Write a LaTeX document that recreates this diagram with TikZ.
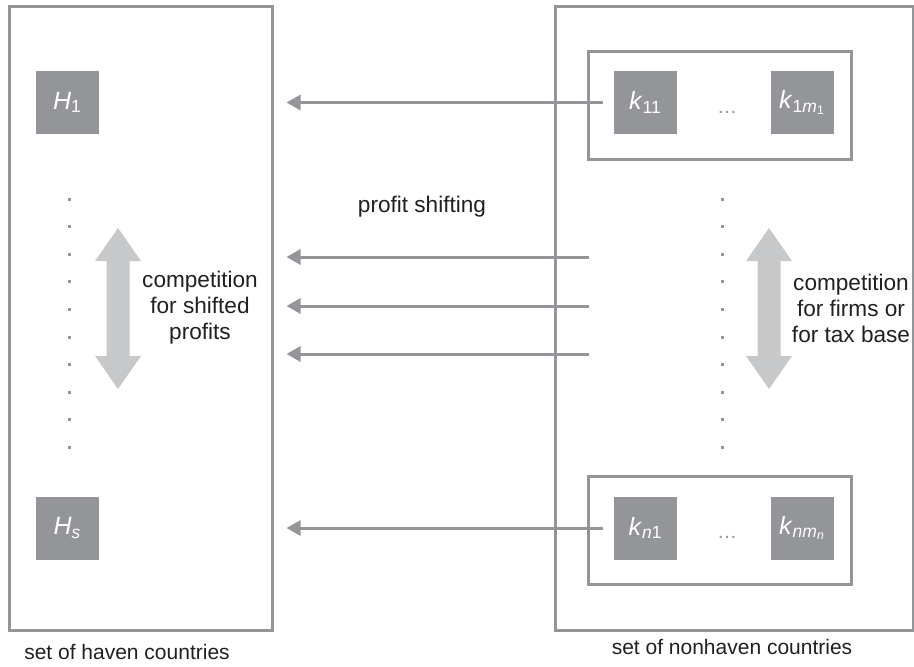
\documentclass[tikz,border=0pt]{standalone}
\usepackage{fontspec}
\setmainfont{Liberation Sans}
\usetikzlibrary{arrows.meta}
\definecolor{boxgray}{HTML}{939598}
\definecolor{lightgray}{HTML}{C7C8CA}
\definecolor{inkblack}{HTML}{231F20}

\begin{document}
\begin{tikzpicture}[x=0.5pt,y=-0.5pt,
  setbox/.style={draw=boxgray,line width=1.5pt,minimum width=#1},
  country/.style={fill=boxgray,text=white,minimum size=31.5pt,inner sep=0pt,font=\fontsize{12.5}{14}\selectfont},
  shiftarrow/.style={draw=boxgray,line width=1.5pt,-{Triangle[length=7pt,width=7.5pt]}},
  textlabel/.style={text=inkblack,align=center,font=\fontsize{11.3}{13}\selectfont}]
\useasboundingbox (0,0) rectangle (914,666);
% outer sets
\node[setbox=131.5pt,minimum height=312pt] (haven) at (140.5,318) {};
\node[setbox=179pt,minimum height=312pt] (nonhaven) at (734,318) {};
\node[textlabel,font=\fontsize{10.5}{12}\selectfont] (havenlabel) at (127,652) {set of haven countries};
\node[textlabel,font=\fontsize{10.5}{12}\selectfont] (nonhavenlabel) at (732,647) {set of nonhaven countries};
% groups of firms
\node[setbox=131.5pt,minimum height=54pt] (group1) at (719.5,105) {};
\node[setbox=131.5pt,minimum height=54pt] (groupn) at (719.5,530.5) {};
\node[country] (H1) at (67.5,102.5) {\textit{H}\textsubscript{1}};
\node[country] (Hs) at (67.5,528) {\textit{H}\textsubscript{\textit{s}}};
\node[country] (k11) at (645.5,102.5) {\textit{k}\textsubscript{11}};
\node[country] (k1m) at (802.5,102.5) {\textit{k}\textsubscript{1\textit{m}\textsubscript{1}}};
\node[country] (kn1) at (645.5,528) {\textit{k}\textsubscript{\textit{n}1}};
\node[country] (knm) at (802.5,528) {\textit{k}\textsubscript{\textit{nm}\textsubscript{\textit{n}}}};
\node[text=boxgray,font=\fontsize{10}{12}\selectfont] (dots1) at (727,112) {\dots};
\node[text=boxgray,font=\fontsize{10}{12}\selectfont] (dotsn) at (727,537) {\dots};
% profit shifting
\draw[shiftarrow] ([xshift=-5.5pt]k11.west) -- ([xshift=6.5pt]haven.east |- k11);
\draw[shiftarrow] ([xshift=-5.5pt]kn1.west) -- ([xshift=6.5pt]haven.east |- kn1);
\foreach \y in {257,306,354}
  \draw[shiftarrow] ([xshift=17.5pt]nonhaven.west |- 0,\y) -- ([xshift=6.5pt]haven.east |- 0,\y);
\node[textlabel] (shifting) at (422,207) {profit shifting};
% vertical dots
\foreach \x in {69,722}
  \foreach \i in {0,...,9}
    \fill[boxgray] (\x-1.5,199+27.6*\i-1.5) rectangle ++(3,3);
% competition arrows
\foreach \cx in {118,769}
  \fill[lightgray] (\cx,228) -- (\cx+23,261) -- (\cx+11.5,261) -- (\cx+11.5,356) -- (\cx+23,356)
    -- (\cx,389) -- (\cx-23,356) -- (\cx-11.5,356) -- (\cx-11.5,261) -- (\cx-23,261) -- cycle;
\node[textlabel] (havencomp) at (200,308) {competition\\for shifted\\profits};
\node[textlabel] (firmcomp) at (851,308) {competition\\for firms or\\for tax base};
\end{tikzpicture}
\end{document}
